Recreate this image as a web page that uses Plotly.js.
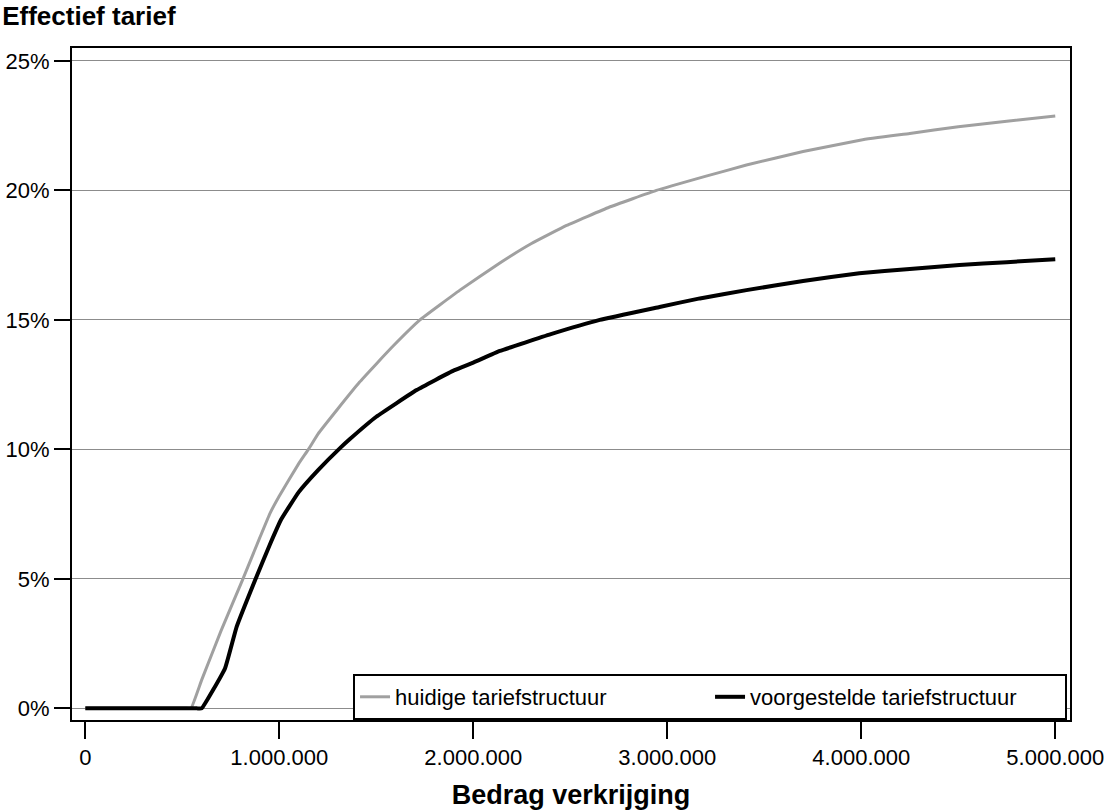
<!DOCTYPE html>
<html>
<head>
<meta charset="utf-8">
<script src="https://cdn.plot.ly/plotly-3.0.1.min.js"></script>
<style>html,body{margin:0;padding:0;background:#fff;}#chart{width:1108px;height:812px;}</style>
</head>
<body>
<div id="chart"></div>
<script>
// Bedrag verkrijging (euro)
var huidigeX = [0, 250000, 500000, 525000, 545000, 600000, 700000, 810000, 900000, 952000, 1000000, 1100000, 1150000, 1200000, 1300000, 1414000, 1500000, 1588000, 1725000, 1931000, 2137000, 2300000, 2481000, 2700000, 2944000, 3200000, 3408000, 3700000, 4000000, 4250000, 4500000, 4750000, 5000000];
// Effectief tarief (%) - huidige tariefstructuur
var huidigeY = [0, 0, 0, 0, 0, 1.1, 3.0, 4.95, 6.6, 7.53, 8.2, 9.45, 10.0, 10.6, 11.55, 12.6, 13.3, 14.0, 15.0, 16.15, 17.2, 17.95, 18.65, 19.35, 20.0, 20.55, 20.98, 21.5, 21.95, 22.2, 22.46, 22.67, 22.87];

var voorgesteldX = [0, 250000, 500000, 575000, 600000, 720000, 780000, 875000, 950000, 1010000, 1100000, 1200000, 1313000, 1364000, 1500000, 1708000, 1900000, 2000000, 2137000, 2400000, 2652000, 2960000, 3168000, 3408000, 3700000, 3990000, 4250000, 4506000, 4750000, 5000000];
// Effectief tarief (%) - voorgestelde tariefstructuur
var voorgesteldY = [0, 0, 0, 0, 0, 1.54, 3.15, 4.95, 6.3, 7.3, 8.35, 9.2, 10.05, 10.4, 11.26, 12.29, 13.05, 13.35, 13.8, 14.45, 15.0, 15.5, 15.83, 16.15, 16.5, 16.8, 16.97, 17.12, 17.23, 17.34];

var xTicks = [0, 1000000, 2000000, 3000000, 4000000, 5000000];
var yTicks = [0, 5, 10, 15, 20, 25];
var yTickText = ['0%', '5%', '10%', '15%', '20%', '25%'];

var seriesNames = ['huidige tariefstructuur', 'voorgestelde tariefstructuur'];

var FONT = '"Liberation Sans", Arial, Helvetica, sans-serif';

var traces = [
  {x: huidigeX, y: huidigeY, name: seriesNames[0], type: 'scatter', mode: 'lines',
   line: {color: '#a0a0a0', width: 3, shape: 'spline', smoothing: 0.3}},
  {x: voorgesteldX, y: voorgesteldY, name: seriesNames[1], type: 'scatter', mode: 'lines',
   line: {color: '#000000', width: 4, shape: 'spline', smoothing: 0.3}}
];

var layout = {
  width: 1108, height: 812,
  paper_bgcolor: '#ffffff', plot_bgcolor: '#ffffff',
  separators: ',.',
  font: {family: FONT, size: 22, color: '#000'},
  margin: {l: 72, r: 38, t: 48, b: 92},
  title: {text: 'Effectief tarief', x: 0.002, xref: 'container', xanchor: 'left',
          y: 0.992, yref: 'container', yanchor: 'top',
          font: {family: FONT, size: 26, weight: 700, color: '#000'}},
  xaxis: {
    range: [-68600, 5076000],
    tickmode: 'array', tickvals: xTicks, tickformat: ',d',
    ticks: 'outside', ticklen: 17, tickwidth: 2, tickcolor: '#000',
    showline: true, linecolor: '#000', linewidth: 2, mirror: true,
    showgrid: false, zeroline: false,
    tickfont: {family: FONT, size: 22, color: '#000'},
    title: {text: 'Bedrag verkrijging', standoff: 16,
            font: {family: FONT, size: 27, weight: 700, color: '#000'}},
    automargin: false
  },
  yaxis: {
    range: [-0.45, 25.5],
    tickmode: 'array', tickvals: yTicks, ticktext: yTickText,
    ticks: 'outside', ticklen: 16, tickwidth: 2, tickcolor: '#000',
    showline: true, linecolor: '#000', linewidth: 2, mirror: true,
    showgrid: true, gridcolor: '#8c8c8c', gridwidth: 1,
    zeroline: false,
    tickfont: {family: FONT, size: 22, color: '#000'},
    automargin: false
  },
  showlegend: true,
  legend: {
    orientation: 'h', x: 0.2816, xanchor: 'left', y: 0, yanchor: 'bottom',
    bgcolor: '#ffffff', bordercolor: '#000', borderwidth: 2,
    entrywidth: 310, entrywidthmode: 'pixels',
    font: {family: FONT, size: 22, color: '#000'},
    traceorder: 'normal'
  }
};

Plotly.newPlot('chart', traces, layout, {displayModeBar: false, staticPlot: true});
</script>
</body>
</html>
